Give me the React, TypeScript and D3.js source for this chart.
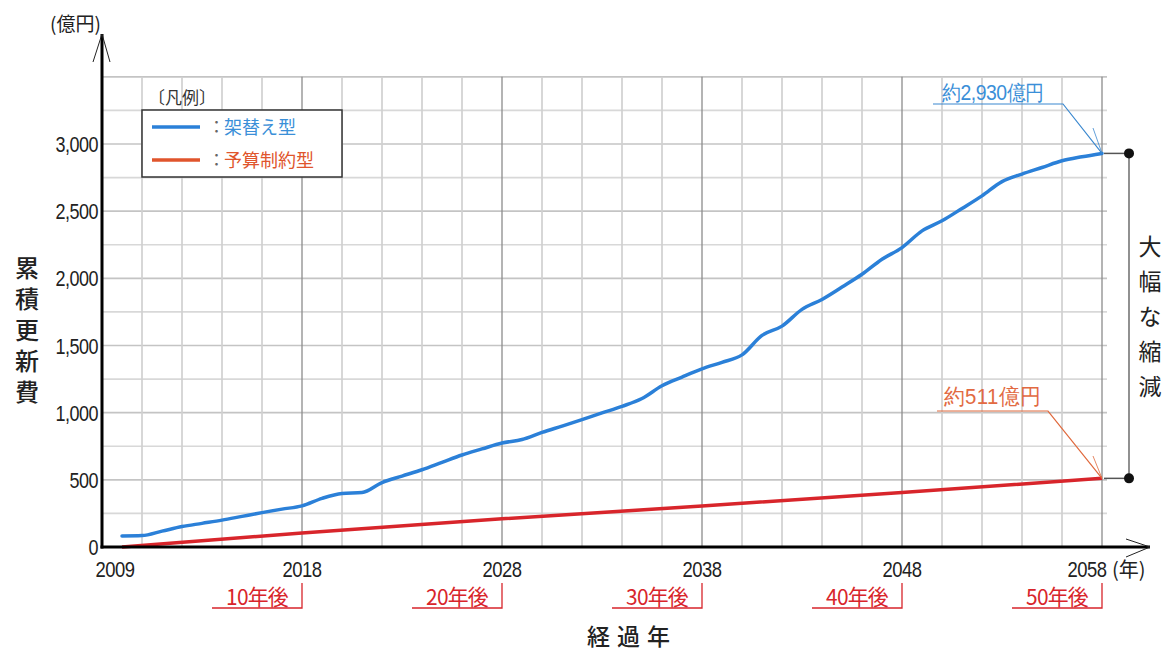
import React from "react";
import * as d3 from "d3";

const years = [
  2009, 2010, 2011, 2012, 2013, 2014, 2015, 2016, 2017, 2018,
  2019, 2020, 2021, 2022, 2023, 2024, 2025, 2026, 2027, 2028,
  2029, 2030, 2031, 2032, 2033, 2034, 2035, 2036, 2037, 2038,
  2039, 2040, 2041, 2042, 2043, 2044, 2045, 2046, 2047, 2048,
  2049, 2050, 2051, 2052, 2053, 2054, 2055, 2056, 2057, 2058,
];
const replaceValues = [
  82, 85, 118, 152, 176, 200, 228, 256, 282, 306,
  362, 398, 405, 480, 528, 575, 630, 685, 730, 774,
  800, 853, 900, 948, 998, 1047, 1105, 1200, 1265, 1326,
  1375, 1430, 1575, 1644, 1769, 1843, 1935, 2030, 2142, 2229,
  2353, 2428, 2520, 2614, 2720, 2776, 2825, 2875, 2905, 2930,
];
const budgetYears = [2009, 2018, 2028, 2038, 2048, 2058];
const budgetValues = [0, 105, 210, 305, 405, 511];

const yTicks = [0, 500, 1000, 1500, 2000, 2500, 3000];
const yTickLabels = ["0", "500", "1,000", "1,500", "2,000", "2,500", "3,000"];
const xTicks = [2009, 2018, 2028, 2038, 2048, 2058];
const milestoneYears = [2018, 2028, 2038, 2048, 2058];
const milestoneLabels = ["10年後", "20年後", "30年後", "40年後", "50年後"];
const seriesNames = ["架替え型", "予算制約型"];
const replaceLabel = "約2,930億円";
const budgetLabel = "約511億円";
const yTitle = "累積更新費";
const reductionLabel = "大幅な縮減";

const BLUE = "#2b80d8";
const BLUE_TXT = "#3a8fd8";
const RED = "#d8252b";
const RED_LEG = "#e0552c";
const RED_TXT = "#e26a42";
const JP = "'Noto Sans CJK JP', 'Noto Sans', sans-serif";
const NUM = "'Liberation Sans', Arial, sans-serif";

export default function App() {
  const x = d3.scaleLinear().domain([2008, 2058]).range([102, 1102]);
  const y = d3.scaleLinear().domain([0, 3000]).range([547, 144]);

  const line = d3
    .line<[number, number]>()
    .x((d) => x(d[0]))
    .y((d) => y(d[1]))
    .curve(d3.curveMonotoneX);

  const bluePts: [number, number][] = years.map((yr, i) => [yr, replaceValues[i]]);
  const redPts: [number, number][] = budgetYears.map((yr, i) => [yr, budgetValues[i]]);

  const hGrid = d3.range(250, 3501, 250);
  const vGrid = d3.range(2010, 2059, 2);
  const gridRight = x(2058) + 5;

  const endX = x(2058);
  const blueEndY = y(replaceValues[replaceValues.length - 1]);
  const redEndY = y(budgetValues[budgetValues.length - 1]);
  const bracketX = 1129;

  const condensed = (tx: number, ty: number, s = 0.84) =>
    `translate(${tx},${ty}) scale(${s},1)`;

  return (
    <svg
      width={1173}
      height={654}
      style={{ position: "absolute", left: 0, top: 0, background: "#fff" }}
    >
      <rect x={0} y={0} width={1173} height={654} fill="#fff" />
      {/* horizontal grid */}
      {hGrid.map((v) => (
        <line
          key={"h" + v}
          x1={x(2008)}
          x2={gridRight}
          y1={y(v)}
          y2={y(v)}
          stroke={v % 500 === 0 ? "#c4c4c4" : "#d8d8d8"}
          strokeWidth={1.7}
        />
      ))}
      {/* vertical grid */}
      {vGrid.map((yr) => {
        const major = (yr - 2008) % 10 === 0;
        return (
          <line
            key={"v" + yr}
            x1={x(yr)}
            x2={x(yr)}
            y1={y(3500)}
            y2={y(0)}
            stroke={major ? "#8c8c8c" : "#d0d0d0"}
            strokeWidth={major ? 1.3 : 1.7}
          />
        );
      })}

      {/* legend */}
      <text x={148} y={104} fontFamily={JP} fontSize={17} fill="#333">
        〔凡例〕
      </text>
      <rect x={142} y={110} width={200} height={67} fill="#fff" stroke="#333" strokeWidth={1.5} />
      <line x1={152} x2={200} y1={127} y2={127} stroke={BLUE} strokeWidth={3.5} />
      <text x={208} y={133} fontFamily={JP} fontSize={17} fill="#666">：</text>
      <text x={224} y={134} fontFamily={JP} fontSize={18} fill={BLUE_TXT}>
        {seriesNames[0]}
      </text>
      <line x1={152} x2={200} y1={160} y2={160} stroke={RED_LEG} strokeWidth={3.5} />
      <text x={208} y={166} fontFamily={JP} fontSize={17} fill="#666">：</text>
      <text x={224} y={167} fontFamily={JP} fontSize={18} fill={RED_LEG}>
        {seriesNames[1]}
      </text>

      {/* series */}
      <path d={line(redPts) || ""} fill="none" stroke={RED} strokeWidth={3.5} strokeLinejoin="round" />
      <path d={line(bluePts) || ""} fill="none" stroke={BLUE} strokeWidth={3.5} strokeLinejoin="round" strokeLinecap="round" />

      {/* axes */}
      <line x1={x(2008)} x2={x(2008)} y1={34} y2={y(0) + 1.5} stroke="#000" strokeWidth={3} />
      <polyline points={`${x(2008) - 9},62 ${x(2008)},34 ${x(2008) + 8},62`} fill="none" stroke="#222" strokeWidth={1} />
      <line x1={x(2008) - 1.5} x2={1150} y1={y(0)} y2={y(0)} stroke="#000" strokeWidth={3} />
      <polyline points={`1126,539 1150,${y(0)} 1126,557`} fill="none" stroke="#222" strokeWidth={1} />

      {/* y tick labels */}
      {yTicks.map((v, i) => (
        <text
          key={"yt" + v}
          transform={condensed(98, y(v) + 8, 0.8)}
          textAnchor="end"
          fontFamily={NUM}
          fontSize={22.5}
          letterSpacing={-0.6}
          fill="#222"
        >
          {yTickLabels[i]}
        </text>
      ))}
      <text x={50} y={31} fontFamily={JP} fontSize={19} fill="#222">
        (億円)
      </text>

      {/* y title (vertical) */}
      <text
        x={27}
        y={256}
        fontFamily={JP}
        fontSize={24}
        fontWeight={500}
        letterSpacing={7}
        fill="#222"
        style={{ writingMode: "vertical-rl" }}
      >
        {yTitle}
      </text>

      {/* x tick labels */}
      {xTicks.map((yr) => {
        const cx = yr === 2009 ? x(yr) - 7 : yr === 2058 ? x(yr) - 15 : x(yr);
        return (
          <text
            key={"xt" + yr}
            transform={condensed(cx, 577, 0.82)}
            textAnchor="middle"
            fontFamily={NUM}
            fontSize={22.5}
            letterSpacing={-0.6}
            fill="#222"
          >
            {yr}
          </text>
        );
      })}
      <text x={1112} y={577} fontFamily={JP} fontSize={20} fill="#222">
        (年)
      </text>

      {/* milestones */}
      {milestoneYears.map((yr, i) => {
        const mx = x(yr);
        return (
          <g key={"m" + yr}>
            <polyline
              points={`${mx - 90},608 ${mx},608 ${mx},583`}
              fill="none"
              stroke={RED}
              strokeWidth={1.3}
            />
            <text
              transform={condensed(mx - 14, 605, 0.95)}
              textAnchor="end"
              fontFamily={JP}
              fontSize={22}
              letterSpacing={-0.8}
              fill={RED}
            >
              {milestoneLabels[i]}
            </text>
          </g>
        );
      })}

      {/* x title */}
      <text x={632} y={645} textAnchor="middle" fontFamily={JP} fontSize={23} fontWeight={500} letterSpacing={7} fill="#222">
        経過年
      </text>

      {/* annotation blue */}
      <text transform={condensed(942, 100, 0.9)} fontFamily={NUM} fontSize={21.5} letterSpacing={-0.5} fill={BLUE_TXT}>
        {replaceLabel}
      </text>
      <polyline points={`933,104 1063,104 ${endX},${blueEndY}`} fill="none" stroke="#3b88cf" strokeWidth={1.2} />
      <line x1={1093} x2={endX} y1={128} y2={blueEndY} stroke="#3b88cf" strokeWidth={0.8} />
      {/* annotation red */}
      <text transform={condensed(944, 404, 0.95)} fontFamily={NUM} fontSize={21.5} letterSpacing={0.5} fill={RED_TXT}>
        {budgetLabel}
      </text>
      <polyline points={`937,411 1048,411 ${endX},${redEndY}`} fill="none" stroke="#e06a3e" strokeWidth={1.2} />
      <line x1={1093} x2={endX} y1={456} y2={redEndY} stroke="#e06a3e" strokeWidth={0.8} />

      {/* bracket */}
      <line x1={endX + 2} x2={bracketX} y1={blueEndY} y2={blueEndY} stroke="#555" strokeWidth={1.5} />
      <line x1={endX + 2} x2={bracketX} y1={redEndY} y2={redEndY} stroke="#555" strokeWidth={1.5} />
      <line x1={bracketX} x2={bracketX} y1={blueEndY} y2={redEndY} stroke="#555" strokeWidth={1.3} />
      <circle cx={bracketX} cy={blueEndY} r={5} fill="#111" />
      <circle cx={bracketX} cy={redEndY} r={5} fill="#111" />
      <text
        x={1150}
        y={235}
        fontFamily={JP}
        fontSize={23}
        letterSpacing={12}
        fill="#222"
        style={{ writingMode: "vertical-rl" }}
      >
        {reductionLabel}
      </text>
    </svg>
  );
}
